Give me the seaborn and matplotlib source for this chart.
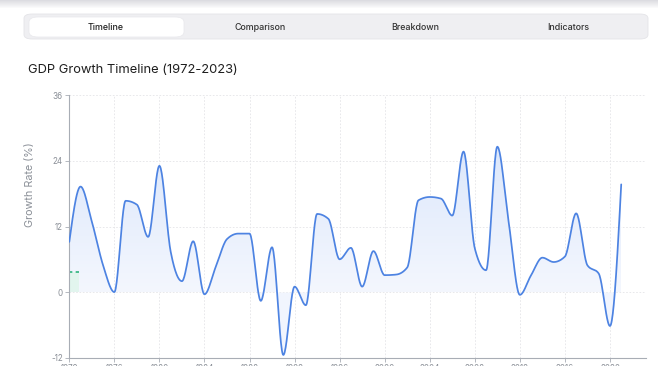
import numpy as np
import pandas as pd
import matplotlib
matplotlib.use("Agg")
import matplotlib.pyplot as plt
from matplotlib.patches import FancyBboxPatch, Rectangle
import seaborn as sns

# ---- data ----
years = list(range(1972, 2022))
growth = [9.2, 19.3, 12.9, 4.9, 0.0, 16.7, 16.0, 10.1, 23.1, 7.4,
          2.0, 9.3, -0.4, 4.6, 9.7, 10.7, 10.7, -1.6, 8.2, -11.5,
          1.0, -2.4, 14.3, 13.4, 6.0, 8.1, 1.0, 7.5, 3.1, 3.2,
          4.5, 16.8, 17.4, 17.1, 14.0, 25.7, 8.0, 4.0, 26.6, 12.9,
          -0.5, 3.1, 6.3, 5.5, 6.5, 14.4, 4.9, 3.4, -6.2, 19.7]
avg_years = [1972, 1972.9]
avg_values = [3.7, 3.7]
tabs = ["Timeline", "Comparison", "Breakdown", "Indicators"]
x_ticks = list(range(1972, 2021, 4))
y_ticks = [-12, 0, 12, 24, 36]
title = "GDP Growth Timeline (1972-2023)"
ylabel = "Growth Rate (%)"


def monotone_x(xs, ys, n=24):
    xs = np.asarray(xs, float)
    ys = np.asarray(ys, float)
    h = np.diff(xs)
    s = np.diff(ys) / h
    m = np.zeros_like(ys)
    for i in range(1, len(xs) - 1):
        s0, s1 = s[i - 1], s[i]
        p = (s0 * h[i] + s1 * h[i - 1]) / (h[i - 1] + h[i])
        m[i] = (np.sign(s0) + np.sign(s1)) * min(abs(s0), abs(s1), 0.5 * abs(p))
    m[0] = (3 * s[0] - m[1]) / 2
    m[-1] = (3 * s[-1] - m[-2]) / 2
    X, Y = [], []
    for i in range(len(xs) - 1):
        t = np.linspace(0, 1, n, endpoint=False)
        h00 = 2 * t**3 - 3 * t**2 + 1
        h10 = t**3 - 2 * t**2 + t
        h01 = -2 * t**3 + 3 * t**2
        h11 = t**3 - t**2
        X.append(xs[i] + t * h[i])
        Y.append(h00 * ys[i] + h10 * h[i] * m[i] + h01 * ys[i + 1] + h11 * h[i] * m[i + 1])
    X.append([xs[-1]])
    Y.append([ys[-1]])
    return np.concatenate(X), np.concatenate(Y)


sns.set_theme(style="white")
plt.rcParams["font.family"] = ["Inter", "DejaVu Sans"]

W, H = 658, 366
fig = plt.figure(figsize=(W / 100, H / 100), dpi=100)
fig.patch.set_facecolor("white")


def fx(px):
    return px / W


def fy(py):
    return 1 - py / H


# top shadow band
for i in range(8):
    fig.patches.append(Rectangle((0, fy(i + 1)), 1, 1 / H, transform=fig.transFigure,
                                 facecolor=(0.85, 0.85, 0.87, 0.9 - i * 0.11),
                                 edgecolor="none", zorder=0))

# tab bar
fig.patches.append(FancyBboxPatch((fx(24), fy(39)), fx(648) - fx(24), fy(14) - fy(39),
                                  boxstyle="round,pad=0,rounding_size=0.012",
                                  transform=fig.transFigure, facecolor="#efeff2",
                                  edgecolor="#e4e4e8", linewidth=0.6, zorder=1))
fig.patches.append(FancyBboxPatch((fx(29), fy(37)), fx(184) - fx(29), fy(17) - fy(37),
                                  boxstyle="round,pad=0,rounding_size=0.014",
                                  transform=fig.transFigure, facecolor="white",
                                  edgecolor="#e8e8ec", linewidth=0.5, zorder=2))
tab_x = [106, 260, 415, 568]
for t, x in zip(tabs, tab_x):
    fig.text(fx(x), fy(27), t, ha="center", va="center", fontsize=6.4,
             color="#222222" if t == "Timeline" else "#333333",
             fontweight="medium", zorder=3)

fig.text(fx(28), fy(70), title, ha="left", va="center", fontsize=9.3, color="#1f1f1f")

ax = fig.add_axes([fx(69.3), fy(357.7), fx(646) - fx(69.3), fy(95.3) - fy(357.7)])
ax.set_facecolor("white")

sx, sy = monotone_x(years, growth)
df = pd.DataFrame({"year": sx, "growth": sy})

# gradient fill between curve and zero
poly = ax.fill_between(sx, sy, 0, color="none", linewidth=0)
grad = np.linspace(0, 1, 256).reshape(-1, 1)
cmap = matplotlib.colors.LinearSegmentedColormap.from_list(
    "g", ["#f4f7fe", "#dce7fb"])
img = ax.imshow(grad, extent=[1972, 2021, 0, 27], origin="lower", cmap=cmap,
                aspect="auto", zorder=1)
img.set_clip_path(poly.get_paths()[0], transform=ax.transData)
ax.fill_between(sx, np.minimum(sy, 0), 0, color="#f1f5fe", linewidth=0, zorder=1)

# green avg marker
ax.fill_between(avg_years, avg_values, 0, color="#e2f5ee", linewidth=0, zorder=1.5)
sns.lineplot(x=avg_years, y=avg_values, ax=ax, color="#2fb47c", linewidth=1.2,
             linestyle=(0, (2, 2)), zorder=2)

sns.lineplot(data=df, x="year", y="growth", ax=ax, color="#4d83e2",
             linewidth=1.25, sort=False, estimator=None, zorder=3)

ax.set_xlim(1972, 2023.2)
ax.set_ylim(-12, 36)
ax.set_xticks(x_ticks)
ax.set_xticklabels([str(x) for x in x_ticks])
ax.set_yticks(y_ticks)
ax.set_yticklabels([str(y) for y in y_ticks])
ax.grid(True, color="#e4e4e8", linestyle=(0, (2, 2)), linewidth=0.6)
ax.set_axisbelow(True)
for side in ["top", "right"]:
    ax.spines[side].set_visible(False)
for side in ["left", "bottom"]:
    ax.spines[side].set_color("#a8adb5")
    ax.spines[side].set_linewidth(0.8)
ax.tick_params(axis="both", colors="#a8adb5", labelcolor="#8a8f97", labelsize=5.8,
               length=3, width=0.6, pad=1.5, direction="out", bottom=True, left=True)
ax.set_xlabel("")
ax.set_ylabel(ylabel, fontsize=7.8, color="#8a8f97")
ax.yaxis.set_label_coords((35 - 69.3) / (646 - 69.3), (357.7 - 185) / 262.4)

fig.savefig("out.png", dpi=100, facecolor="white")
